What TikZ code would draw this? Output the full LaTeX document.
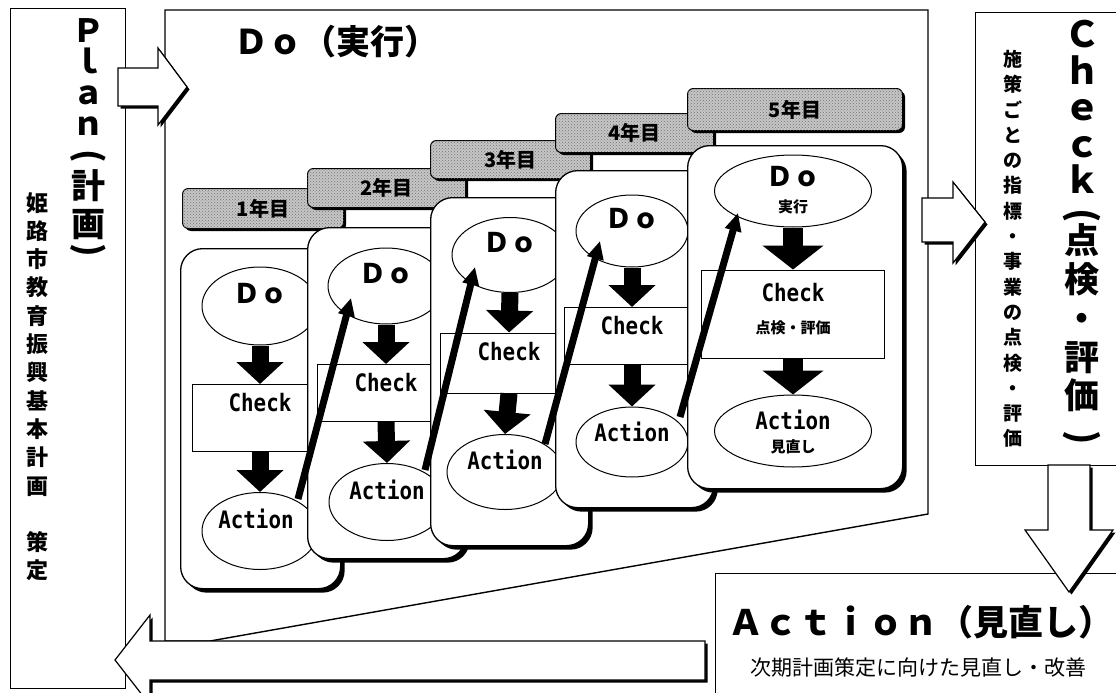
\documentclass[tikz,border=0pt]{standalone}
\usepackage{fontspec}
\setmainfont{Noto Sans CJK JP}
\newfontfamily\monof[FakeStretch=0.87]{DejaVu Sans Mono}
\usetikzlibrary{shapes.geometric,arrows.meta,shadows,patterns,calc}
\newcommand\fsz[2]{\fontsize{#1}{#2}\selectfont}
\begin{document}
\begin{tikzpicture}[x=1pt,y=-1pt,
  frame/.style={draw, line width=1.4pt},
  blk/.style={draw, line width=1.2pt, fill=white, drop shadow={shadow xshift=2.5pt, shadow yshift=-2.5pt, fill=black, opacity=1}},
  card/.style={draw, line width=1.3pt, fill=white, rounded corners=22pt, inner sep=0, drop shadow={shadow xshift=4pt, shadow yshift=-4pt, fill=black, opacity=1}},
  tab/.style={draw, line width=1pt, rounded corners=6pt, fill=gray!45, postaction={pattern=crosshatch dots, pattern color=black!55}, drop shadow={shadow xshift=2.5pt, shadow yshift=-2.5pt, fill=black, opacity=1}, font=\bfseries\fsz{20}{20}, inner sep=0},
  ell/.style={ellipse, draw, line width=1pt, fill=white, inner sep=0},
  chkbox/.style={rectangle, draw, line width=1pt, fill=white, inner sep=0},
  dn/.style={line width=17pt, -{Triangle[width=46pt,length=22pt]}},
  dnbig/.style={line width=20pt, -{Triangle[width=60pt,length=24pt]}},
  diag/.style={line width=7pt, -{Triangle[width=16pt,length=18pt]}},
  dol/.style={font=\bfseries\fsz{27}{27}, inner sep=0},
  wl/.style={font=\monof\bfseries\fsz{24}{24}, inner sep=0},
  subl/.style={font=\bfseries\fsz{15}{15}, inner sep=0},
  vpar/.style={inner sep=0, rotate=-90, font=\bfseries\fsz{34}{34}}
]
\useasboundingbox (0,0) rectangle (1116,693);
\clip (0,0) rectangle (1116,693);
\fill[white] (0,0) rectangle (1116,693);

% main frames
\node[frame, anchor=north west, minimum width=115pt, minimum height=680pt, inner sep=0] (plan) at (10,8) {};
\draw[frame] (165,10) coordinate (dotl) -- (928,10) -- (928,514) -- (210,641) -- (165,641) -- cycle;
\node[frame, anchor=north west, minimum width=160pt, minimum height=453pt, inner sep=0] (check) at (975,12) {};
\node[frame, anchor=north west, minimum width=420pt, minimum height=140pt, inner sep=0] (action) at (715,573) {};

% big block arrows
\draw[blk] (118,68) -- (158,68) -- (158,48) -- (187,87) -- (158,125) -- (158,106) -- (118,106) -- cycle;
\draw[blk] (922,198) -- (953,198) -- (953,182) -- (985,222) -- (953,263) -- (953,242) -- (922,242) -- cycle;
\draw[blk] (1048,465) -- (1090,465) -- (1090,530) -- (1113,530) -- (1069,592) -- (1025,530) -- (1048,530) -- cycle;
\draw[blk] (705,641) -- (150,641) -- (150,615) -- (115,660) -- (150,705) -- (150,680) -- (705,680) -- cycle;

% Plan column
\node[anchor=north, align=center, inner sep=0, font=\bfseries\fsz{32}{31}] (plant) at (88,18) {Ｐ\\ｌ\\ａ\\ｎ};
\node[vpar] (planp1) at (88,156) {(};
\node[align=center, inner sep=0, font=\bfseries\fsz{34}{38}] (plank) at (88,205) {計\\画};
\node[vpar] (planp2) at (88,250) {)};
\node[anchor=north, align=center, inner sep=0, font=\bfseries\fsz{22}{28.3}] (plans) at (38,192) {姫\\路\\市\\教\\育\\振\\興\\基\\本\\計\\画\\[28.3pt]策\\定};

% Do title
\node[anchor=west, inner sep=0, font=\bfseries\fsz{34}{34}] (dot) at (234,42) {Ｄｏ（実行）};

% Check column
\node[anchor=north, align=center, inner sep=0, font=\bfseries\fsz{36}{36.5}] (checkt) at (1082,20) {Ｃ\\ｈ\\ｅ\\ｃ\\ｋ};
\node[vpar, font=\bfseries\fsz{36}{36}] (checkp1) at (1082,216) {(};
\node[align=center, inner sep=0, font=\bfseries\fsz{35}{38.7}] (checkk) at (1082,318) {点\\検\\・\\評\\価};
\node[vpar, font=\bfseries\fsz{36}{36}] (checkp2) at (1082,438) {)};
\node[anchor=north, align=center, inner sep=0, font=\bfseries\fsz{19}{25.3}] (checks) at (1013,50) {施\\策\\ご\\と\\の\\指\\標\\・\\事\\業\\の\\点\\検\\・\\評\\価};

% Action title
\node[anchor=west, inner sep=0, font=\bfseries\fsz{35}{35}] (actt) at (728,622) {Ａｃｔｉｏｎ（見直し）};
\node[anchor=west, inner sep=0, font=\fsz{21}{21}] (acts) at (750,668) {次期計画策定に向けた見直し・改善};

% year 1
\node[tab, anchor=north west, minimum width=161pt, minimum height=40pt] (tab1) at (182,188) {1年目};
\node[card, anchor=north west, minimum width=160pt, minimum height=340pt] (card1) at (180,248) {};
\node[ell, minimum width=116pt, minimum height=78pt] (do1) at (260,306) {};
\node[chkbox, minimum width=136pt, minimum height=67pt] (chk1) at (260,418) {};
\node[ell, minimum width=116pt, minimum height=77pt] (act1) at (260,531) {};
\draw[dn] (do1.south) -- (chk1.north);
\draw[dn] (chk1.south) -- (act1.north);
\node[dol] (do1t) at ($(do1.center)+(0,-12)$) {Ｄｏ};
\node[wl] (chk1t) at ($(chk1.north)+(0,19)$) {Check};
\node[wl] (act1t) at ($(act1.center)+(-4,-12)$) {Action};

% year 2
\node[tab, anchor=north west, minimum width=158pt, minimum height=39pt] (tab2) at (307,168) {2年目};
\node[card, anchor=north west, minimum width=158pt, minimum height=331pt] (card2) at (307,227) {};
\node[ell, minimum width=116pt, minimum height=76pt] (do2) at (386,286) {};
\node[chkbox, minimum width=138pt, minimum height=57pt] (chk2) at (386,393) {};
\node[ell, minimum width=116pt, minimum height=77pt] (act2) at (387,502) {};
\draw[dn] (do2.south) -- (chk2.north);
\draw[dn] (chk2.south) -- (act2.north);
\node[dol] (do2t) at ($(do2.center)+(0,-12)$) {Ｄｏ};
\node[wl] (chk2t) at ($(chk2.north)+(0,19)$) {Check};
\node[wl] (act2t) at ($(act2.center)+(0,-12)$) {Action};

% year 3
\node[tab, anchor=north west, minimum width=160pt, minimum height=38pt] (tab3) at (430,140) {3年目};
\node[card, anchor=north west, minimum width=158pt, minimum height=348pt] (card3) at (430,197) {};
\node[ell, minimum width=116pt, minimum height=75pt] (do3) at (510,255) {};
\node[chkbox, minimum width=138pt, minimum height=60pt] (chk3) at (509,363) {};
\node[ell, minimum width=116pt, minimum height=75pt] (act3) at (505,472) {};
\draw[dn] (do3.south) -- (chk3.north);
\draw[dn] (chk3.south) -- (act3.north);
\node[dol] (do3t) at ($(do3.center)+(0,-12)$) {Ｄｏ};
\node[wl] (chk3t) at ($(chk3.north)+(0,19)$) {Check};
\node[wl] (act3t) at ($(act3.center)+(0,-12)$) {Action};

% year 4
\node[tab, anchor=north west, minimum width=158pt, minimum height=39pt] (tab4) at (555,113) {4年目};
\node[card, anchor=north west, minimum width=158pt, minimum height=337pt] (card4) at (555,170) {};
\node[ell, minimum width=112pt, minimum height=72pt] (do4) at (632,231) {};
\node[chkbox, minimum width=136pt, minimum height=57pt] (chk4) at (632,336) {};
\node[ell, minimum width=112pt, minimum height=70pt] (act4) at (632,442) {};
\draw[dn] (do4.south) -- (chk4.north);
\draw[dn] (chk4.south) -- (act4.north);
\node[dol] (do4t) at ($(do4.center)+(0,-12)$) {Ｄｏ};
\node[wl] (chk4t) at ($(chk4.north)+(0,19)$) {Check};
\node[wl] (act4t) at ($(act4.center)+(0,-10)$) {Action};

% year 5
\node[tab, anchor=north west, minimum width=215pt, minimum height=42pt] (tab5) at (687,88) {5年目};
\node[card, anchor=north west, minimum width=215pt, minimum height=343pt] (card5) at (687,145) {};
\node[ell, minimum width=157pt, minimum height=72pt] (do5) at (793,191) {};
\node[chkbox, minimum width=183pt, minimum height=88pt] (chk5) at (793,314) {};
\node[ell, minimum width=157pt, minimum height=72pt] (act5) at (793,431) {};
\draw[dnbig] (do5.south) -- (chk5.north);
\draw[dnbig] (chk5.south) -- (act5.north);
\node[dol] (do5t) at ($(do5.center)+(0,-14)$) {Ｄｏ};
\node[subl] (do5s) at ($(do5.center)+(0,16)$) {実行};
\node[wl] (chk5t) at ($(chk5.north)+(0,23)$) {Check};
\node[subl] (chk5s) at ($(chk5.north)+(0,58)$) {点検・評価};
\node[wl] (act5t) at ($(act5.center)+(0,-11)$) {Action};
\node[subl] (act5s) at ($(act5.center)+(0,16)$) {見直し};

% year-to-year arrows
\draw[diag] ($(act1.center)+(38,-32)$) -- ($(do2.center)+(-35,12)$);
\draw[diag] ($(act2.center)+(38,-32)$) -- ($(do3.center)+(-35,12)$);
\draw[diag] ($(act3.center)+(40,-28)$) -- ($(do4.center)+(-32,10)$);
\draw[diag] ($(act4.center)+(48,-25)$) -- ($(do5.center)+(-55,22)$);
\end{tikzpicture}
\end{document}
